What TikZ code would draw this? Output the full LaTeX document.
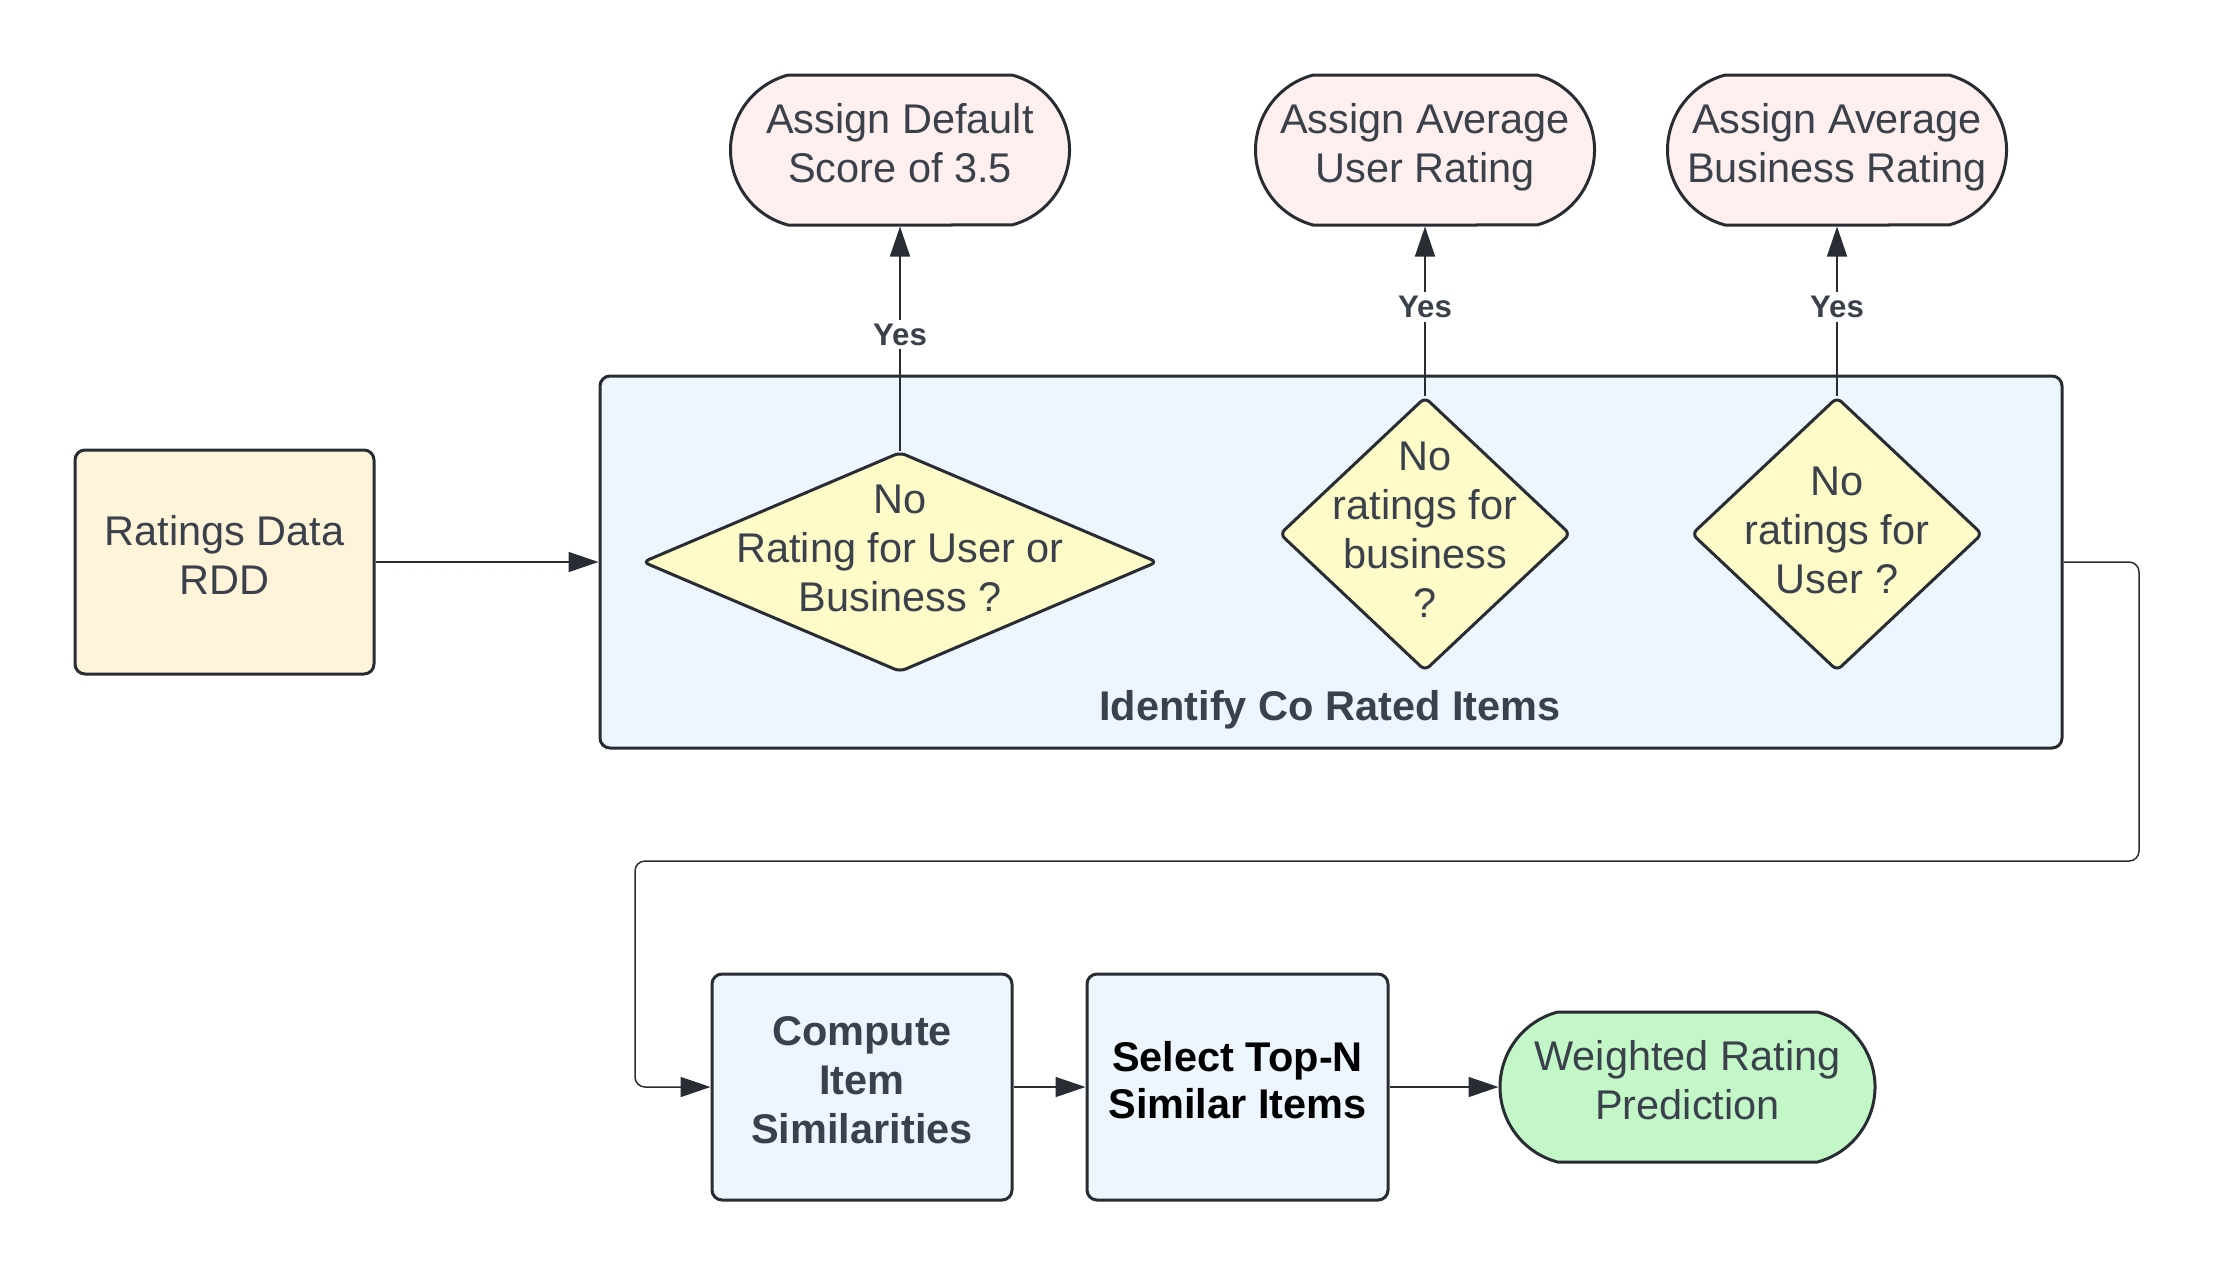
\documentclass[tikz,border=0pt]{standalone}
\usepackage{fontspec}
\setmainfont{Liberation Sans}
\usetikzlibrary{shapes.geometric,shapes.misc,arrows.meta}
\definecolor{ink}{RGB}{40,44,51}
\definecolor{txt}{RGB}{58,65,74}
\definecolor{cream}{RGB}{255,243,217}
\definecolor{paleblue}{RGB}{237,245,255}
\definecolor{paleyellow}{RGB}{254,251,201}
\definecolor{palepink}{RGB}{255,239,239}
\definecolor{palegreen}{RGB}{195,247,200}
\begin{document}
\begin{tikzpicture}[x=0.5pt,y=-0.5pt,
  every node/.style={text=txt,font=\fontsize{20.75}{24.5}\selectfont,align=center},
  box/.style={draw=ink,line width=1.5pt,rounded corners=5pt,inner sep=0pt,text depth=7pt},
  decision/.style={diamond,draw=ink,fill=paleyellow,line width=1.5pt,rounded corners=3pt,inner sep=0pt},
  terminal/.style={rounded rectangle,rounded rectangle arc length=150,draw=ink,line width=1.5pt,
    inner sep=0pt,minimum width=169.5pt,minimum height=75pt,fill=palepink,text depth=7pt},
  conn/.style={draw=ink,line width=0.75pt,-{Triangle[length=15pt,width=10pt]}},
  yes/.style={fill=white,font=\bfseries\fontsize{15.6}{18}\selectfont,inner sep=2pt,yshift=2pt}]
\useasboundingbox (0,0) rectangle (2214,1275);

\node[box,fill=cream,minimum width=149.5pt,minimum height=112pt] (ratings) at (224.5,562) {Ratings Data\\RDD};
\node[box,fill=paleblue,minimum width=731pt,minimum height=186pt] (rated) at (1331,562) {};
\node[font=\bfseries\fontsize{20.75}{24.5}\selectfont] (ratedlabel) at (1330,710) {Identify Co Rated Items};

\node[decision,minimum width=257.5pt,minimum height=110pt,
  label={[yshift=7pt]center:{No\\Rating for User or\\Business ?}}] (d1) at (900,562) {};
\node[decision,minimum width=145.5pt,minimum height=137pt,
  label={[yshift=2pt]center:{No\\ratings for\\business\\?}}] (d2) at (1425,534) {};
\node[decision,minimum width=145.5pt,minimum height=137pt,
  label={[yshift=2pt]center:{No\\ratings for\\User ?}}] (d3) at (1837,534) {};

\foreach \i/\x/\txt in {1/900/{Assign Default\\Score of 3.5},2/1425/{Assign Average\\User Rating},3/1837/{Assign Average\\Business Rating}}
  \node[terminal] (t\i) at (\x,150) {\txt};
\foreach \i in {1,2,3}
  \draw[conn] (d\i.north) -- node[yes]{Yes} (t\i.south);

\node[box,fill=paleblue,minimum width=150pt,minimum height=113pt,font=\bfseries\fontsize{20.75}{24.5}\selectfont] (compute) at (862,1087) {Compute\\Item\\Similarities};
\node[box,fill=paleblue,minimum width=150.5pt,minimum height=113pt,text=black,font=\bfseries\fontsize{20.75}{23.3}\selectfont] (select) at (1237.5,1087) {Select Top-N\\Similar Items};
\node[terminal,fill=palegreen,minimum width=187.5pt] (weighted) at (1687.5,1087) {Weighted Rating\\Prediction};

\coordinate (turnA) at (2139,861);
\coordinate (turnB) at (635,861);
\draw[conn] (ratings.east) -- (rated.west);
\draw[conn,rounded corners=5pt] (rated.east) -| (turnA) -- (turnB) |- (compute.west);
\draw[conn] (compute.east) -- (select.west);
\draw[conn] (select.east) -- (weighted.west);
\end{tikzpicture}
\end{document}
